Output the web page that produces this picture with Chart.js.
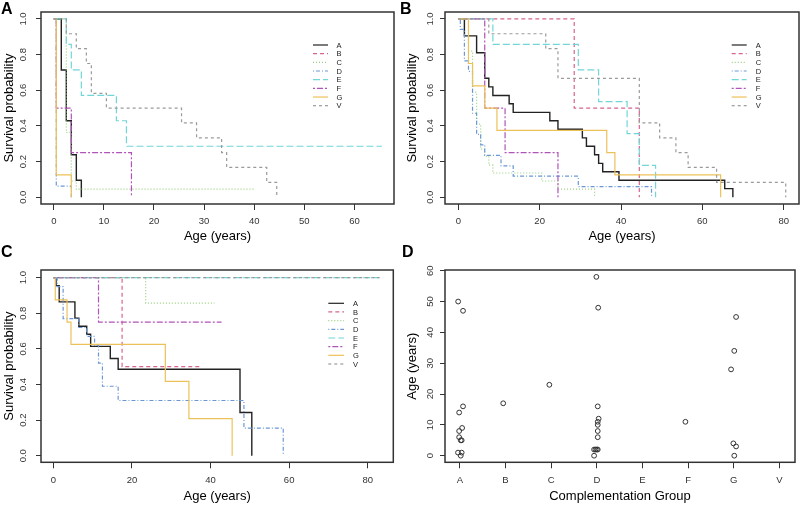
<!DOCTYPE html>
<html><head><meta charset="utf-8">
<script src="https://cdn.jsdelivr.net/npm/chart.js@4.4.1/dist/chart.umd.min.js"></script>
<style>
html,body{margin:0;padding:0;background:#fff}
body{width:800px;height:505px;position:relative;overflow:hidden;font-family:"Liberation Sans",Arial,sans-serif}
canvas{position:absolute}
.lab{position:absolute;font-weight:bold;font-size:16px;line-height:16px;color:#000}
</style></head><body>
<canvas id="cA" width="400" height="245" style="left:0;top:0"></canvas>
<canvas id="cB" width="400" height="245" style="left:400px;top:0"></canvas>
<canvas id="cC" width="400" height="260" style="left:0;top:245px"></canvas>
<canvas id="cD" width="400" height="260" style="left:400px;top:245px"></canvas>
<div class="lab" style="left:1px;top:1px">A</div>
<div class="lab" style="left:400px;top:1px">B</div>
<div class="lab" style="left:1px;top:244px">C</div>
<div class="lab" style="left:402px;top:244px">D</div>
<script>
// ---------- data ----------
const GROUPS = ['A','B','C','D','E','F','G','V'];
const survTicks = [0, 0.2, 0.4, 0.6, 0.8, 1.0];
const ageTicksA = [0, 10, 20, 30, 40, 50, 60];
const ageTicksBC = [0, 20, 40, 60, 80];
const ageTicksD = [0, 10, 20, 30, 40, 50, 60];
const groupTicksD = [1, 2, 3, 4, 5, 6, 7, 8];

// Panel A: times (years) and survival
const a_A_t = [0, 1.5, 2.5, 3.5, 4.5, 5.5];
const a_A_s = [1, 0.714, 0.429, 0.238, 0.095, 0];
const a_C_t = [0, 2.5, 3.5, 4.5, 40];
const a_C_s = [1, 0.364, 0.091, 0.045, 0.045];
const a_D_t = [0, 0.5, 3.5];
const a_D_s = [1, 0.0625, 0];
const a_E_t = [0, 2.5, 3.5, 5.5, 12.5, 14.5, 65.5];
const a_E_s = [1, 0.857, 0.714, 0.571, 0.429, 0.286, 0.286];
const a_F_t = [0, 0.5, 3.5, 15.5];
const a_F_s = [1, 0.5, 0.25, 0];
const a_G_t = [0, 0.5, 3.5];
const a_G_s = [1, 0.125, 0];
const a_V_t = [0, 2.5, 4.5, 6.5, 7.5, 10.5, 25.5, 28.5, 33.5, 34.5, 42.5, 44.5];
const a_V_s = [1, 0.917, 0.833, 0.75, 0.583, 0.5, 0.417, 0.333, 0.25, 0.167, 0.083, 0];

// Panel B
const b_A_t = [0, 1.5, 4.5, 6.5, 7.5, 8.5, 12.5, 13.5, 22.5, 24.5, 30.5, 31.5, 33.5, 34.5, 35.5, 39.5, 65.5, 67.5];
const b_A_s = [1, 0.905, 0.81, 0.667, 0.619, 0.571, 0.524, 0.476, 0.429, 0.381, 0.333, 0.286, 0.238, 0.19, 0.143, 0.095, 0.048, 0];
const b_B_t = [0, 28.5, 44.5];
const b_B_s = [1, 0.5, 0];
const b_C_t = [0, 2.5, 3.5, 4.5, 5.5, 6.5, 7.5, 8.5, 20.5, 24.5, 33.5];
const b_C_s = [1, 0.82, 0.59, 0.41, 0.27, 0.23, 0.18, 0.136, 0.091, 0.045, 0];
const b_D_t = [0, 0.5, 1.5, 2.5, 3.5, 4.5, 5.5, 6.5, 10.5, 13.5, 29.5, 47.5];
const b_D_s = [1, 0.941, 0.765, 0.706, 0.471, 0.353, 0.294, 0.235, 0.176, 0.118, 0.059, 0];
const b_E_t = [0, 8.5, 29.5, 34.5, 41.5, 44.5, 48.5];
const b_E_s = [1, 0.857, 0.714, 0.536, 0.357, 0.179, 0];
const b_F_t = [0, 6.5, 11.5, 24.5];
const b_F_s = [1, 0.5, 0.25, 0];
const b_G_t = [0, 2.5, 3.5, 6.5, 9.5, 36.5, 38.5, 64.5];
const b_G_s = [1, 0.75, 0.625, 0.5, 0.375, 0.25, 0.125, 0];
const b_V_t = [0, 7.5, 21.5, 24.5, 44.5, 49.5, 53.5, 56.5, 63.5, 80.5];
const b_V_s = [1, 0.917, 0.833, 0.667, 0.417, 0.333, 0.25, 0.167, 0.083, 0];

// Panel C
const c_A_t = [0, 0.7, 1.5, 5.5, 6.5, 8.5, 9.5, 14.5, 16.5, 47.5, 50.5];
const c_A_s = [1, 0.955, 0.864, 0.773, 0.727, 0.682, 0.614, 0.546, 0.486, 0.243, 0];
const c_B_t = [0, 17.5, 37.5];
const c_B_s = [1, 0.5, 0.5];
const c_C_t = [0, 23.5, 41];
const c_C_s = [1, 0.857, 0.857];
const c_D_t = [0, 1, 2.5, 6.5, 8.5, 10.5, 11.5, 12.5, 16.5, 48.5, 58.5];
const c_D_s = [1, 0.95, 0.77, 0.72, 0.67, 0.62, 0.52, 0.39, 0.31, 0.155, 0];
const c_E_t = [0, 83];
const c_E_s = [1, 1];
const c_F_t = [0, 11.5, 42.8];
const c_F_s = [1, 0.75, 0.75];
const c_G_t = [0, 0.5, 3.5, 4.5, 28.5, 34.5, 45.5];
const c_G_s = [1, 0.875, 0.75, 0.625, 0.417, 0.208, 0];
const c_V_t = [0, 83];
const c_V_s = [1, 1];

// Panel D: jittered group position and age
const d_x = [0.963, 1.07, 1.07, 0.985, 1.05, 0.985, 0.985, 1.02, 1.04, 0.96, 1.04, 1.02,
             1.95, 2.96,
             3.99, 4.03, 4.02, 4.04, 4.02, 4.02, 4.02, 4.02, 3.94, 3.97, 4.0, 4.02, 3.94,
             5.94,
             7.05, 7.01, 6.94, 6.99, 7.05, 7.01];
const d_age = [50, 47, 16, 14, 9, 8, 6, 5, 5, 1, 1, 0,
               17, 23,
               58, 48, 16, 12, 11, 10, 8, 6, 2, 2, 2, 2, 0,
               11,
               45, 34, 28, 4, 3, 0];

// ---------- styles ----------
const FAM = '"Liberation Sans", Arial, sans-serif';
const COLORS = ['#222222', '#D86490', '#98CF7E', '#6A98D6', '#72D6D8', '#B055B8', '#EDC15A', '#9A9A9A'];
const DASHES = [[], [4, 3], [1, 2], [1, 2, 4, 2], [7, 3], [2, 2, 6, 2], [], [3, 3]];

function pts(t, s) { return t.map((v, i) => ({x: v, y: s[i]})); }
function kmSet(g, t, s) {
  const i = GROUPS.indexOf(g);
  return {label: g, data: pts(t, s), borderColor: COLORS[i], borderDash: DASHES[i],
          borderWidth: i === 0 ? 1.4 : 1.2, pointRadius: 0, fill: false, stepped: true,
          tension: 0, order: 8 - i};
}

const boxPlugin = {
  id: 'rbox',
  afterDatasetsDraw(chart) {
    const a = chart.chartArea, ctx = chart.ctx;
    ctx.save(); ctx.strokeStyle = '#333'; ctx.lineWidth = 1.5; ctx.setLineDash([]);
    ctx.strokeRect(a.left, a.top, a.right - a.left, a.bottom - a.top);
    ctx.restore();
  }
};
const yTickPlugin = {
  id: 'ytl',
  afterDraw(chart, args, o) {
    const s = chart.scales.y, ctx = chart.ctx;
    ctx.save(); ctx.fillStyle = '#333'; ctx.font = '9.5px ' + FAM;
    ctx.textAlign = 'center'; ctx.textBaseline = 'middle';
    s.ticks.forEach(t => {
      const y = s.getPixelForValue(t.value);
      ctx.save(); ctx.translate(chart.chartArea.left - o.offset, y); ctx.rotate(-Math.PI / 2);
      ctx.fillText(o.dec ? t.value.toFixed(1) : String(t.value), 0, 0); ctx.restore();
    });
    ctx.restore();
  }
};
const legendPlugin = {
  id: 'rleg',
  afterDatasetsDraw(chart, args, o) {
    const ctx = chart.ctx; ctx.save();
    ctx.font = '7.5px ' + FAM; ctx.textAlign = 'left'; ctx.textBaseline = 'middle';
    GROUPS.forEach((g, i) => {
      const y = o.y0 + i * o.dy;
      ctx.strokeStyle = COLORS[i]; ctx.lineWidth = 1.2; ctx.setLineDash(DASHES[i]);
      ctx.beginPath(); ctx.moveTo(o.x0, y); ctx.lineTo(o.x1, y); ctx.stroke();
      ctx.fillStyle = '#222'; ctx.fillText(g, o.tx, y + 0.5);
    });
    ctx.restore();
  }
};

function makeChart(id, type, datasets, o) {
  const plugins = [boxPlugin, yTickPlugin];
  if (o.legend) plugins.push(legendPlugin);
  return new Chart(document.getElementById(id), {
    type: type,
    data: {datasets: datasets},
    options: {
      responsive: false, animation: false, devicePixelRatio: 1,
      layout: {padding: {left: 0, right: o.padR, top: o.padT, bottom: 0}},
      plugins: {legend: {display: false}, tooltip: {enabled: false},
                ytl: {offset: o.yLabOff, dec: o.dec}, rleg: o.legend || {}},
      scales: {
        x: {type: 'linear', min: o.xMin, max: o.xMax,
            afterBuildTicks: s => { s.ticks = o.xTicks.map(v => ({value: v})); },
            afterFit: s => { s.height = o.xH; },
            grid: {display: true, drawOnChartArea: false, drawTicks: true, tickLength: 6, color: '#333', lineWidth: 1},
            border: {display: false},
            ticks: {padding: 6, color: '#333', font: {family: FAM, size: 9.5}, maxRotation: 0, minRotation: 0,
                    autoSkip: false, callback: o.xCb || (v => String(v))},
            title: {display: true, text: o.xTitle, color: '#000', font: {family: FAM, size: 13},
                    padding: {top: 0, bottom: o.xTitlePad}}},
        y: {type: 'linear', min: o.yMin, max: o.yMax,
            afterBuildTicks: s => { s.ticks = o.yTicks.map(v => ({value: v})); },
            afterFit: s => { s.width = o.yW; },
            grid: {display: true, drawOnChartArea: false, drawTicks: true, tickLength: 5, color: '#333', lineWidth: 1},
            border: {display: false},
            ticks: {display: false},
            title: {display: true, text: o.yTitle, color: '#000', font: {family: FAM, size: 13},
                    padding: {top: o.yTitlePad, bottom: 0}}}
      }
    },
    plugins: plugins
  });
}

makeChart('cA', 'line', [
  kmSet('A', a_A_t, a_A_s), kmSet('C', a_C_t, a_C_s), kmSet('D', a_D_t, a_D_s),
  kmSet('E', a_E_t, a_E_s), kmSet('F', a_F_t, a_F_s), kmSet('G', a_G_t, a_G_s), kmSet('V', a_V_t, a_V_s)
], {padR: 6, padT: 12, yW: 41, xH: 41, xMin: -2.55, xMax: 67.9, yMin: -0.038, yMax: 1.039,
    xTicks: ageTicksA, yTicks: survTicks, dec: true, yLabOff: 17.7, xTitle: 'Age (years)', yTitle: 'Survival probability',
    xTitlePad: 1.2, yTitlePad: 1.4, legend: {x0: 313, x1: 328, tx: 336.5, y0: 45, dy: 8.67}});

makeChart('cB', 'line', [
  kmSet('A', b_A_t, b_A_s), kmSet('B', b_B_t, b_B_s), kmSet('C', b_C_t, b_C_s), kmSet('D', b_D_t, b_D_s),
  kmSet('E', b_E_t, b_E_s), kmSet('F', b_F_t, b_F_s), kmSet('G', b_G_t, b_G_s), kmSet('V', b_V_t, b_V_s)
], {padR: 1, padT: 12, yW: 45, xH: 41, xMin: -3.27, xMax: 83.76, yMin: -0.038, yMax: 1.039,
    xTicks: ageTicksBC, yTicks: survTicks, dec: true, yLabOff: 15, xTitle: 'Age (years)', yTitle: 'Survival probability',
    xTitlePad: 1.2, yTitlePad: 4.5, legend: {x0: 331.7, x1: 346.7, tx: 355.7, y0: 45, dy: 8.67}});

makeChart('cC', 'line', [
  kmSet('A', c_A_t, c_A_s), kmSet('B', c_B_t, c_B_s), kmSet('C', c_C_t, c_C_s), kmSet('D', c_D_t, c_D_s),
  kmSet('E', c_E_t, c_E_s), kmSet('F', c_F_t, c_F_s), kmSet('G', c_G_t, c_G_s), kmSet('V', c_V_t, c_V_s)
], {padR: 6.7, padT: 25, yW: 41, xH: 42.7, xMin: -3.13, xMax: 86.5, yMin: -0.037, yMax: 1.043,
    xTicks: ageTicksBC, yTicks: survTicks, dec: true, yLabOff: 17.5, xTitle: 'Age (years)', yTitle: 'Survival probability',
    xTitlePad: 0.5, yTitlePad: 1.4, legend: {x0: 328.3, x1: 344, tx: 353, y0: 58.3, dy: 8.67}});

makeChart('cD', 'scatter', [{
  label: 'Age', data: pts(d_x, d_age), showLine: false, pointStyle: 'circle', pointRadius: 2.4,
  borderColor: '#333', backgroundColor: 'rgba(0,0,0,0)', borderWidth: 1
}], {padR: 1, padT: 25, yW: 45, xH: 42.7, xMin: 0.675, xMax: 8.34, yMin: -2.14, yMax: 60.23,
    xTicks: groupTicksD, yTicks: ageTicksD, dec: false, yLabOff: 15, xTitle: 'Complementation Group', yTitle: 'Age (years)',
    xTitlePad: 0.5, yTitlePad: 4.5, xCb: v => GROUPS[Math.round(v) - 1] || ''});
</script>
</body></html>
